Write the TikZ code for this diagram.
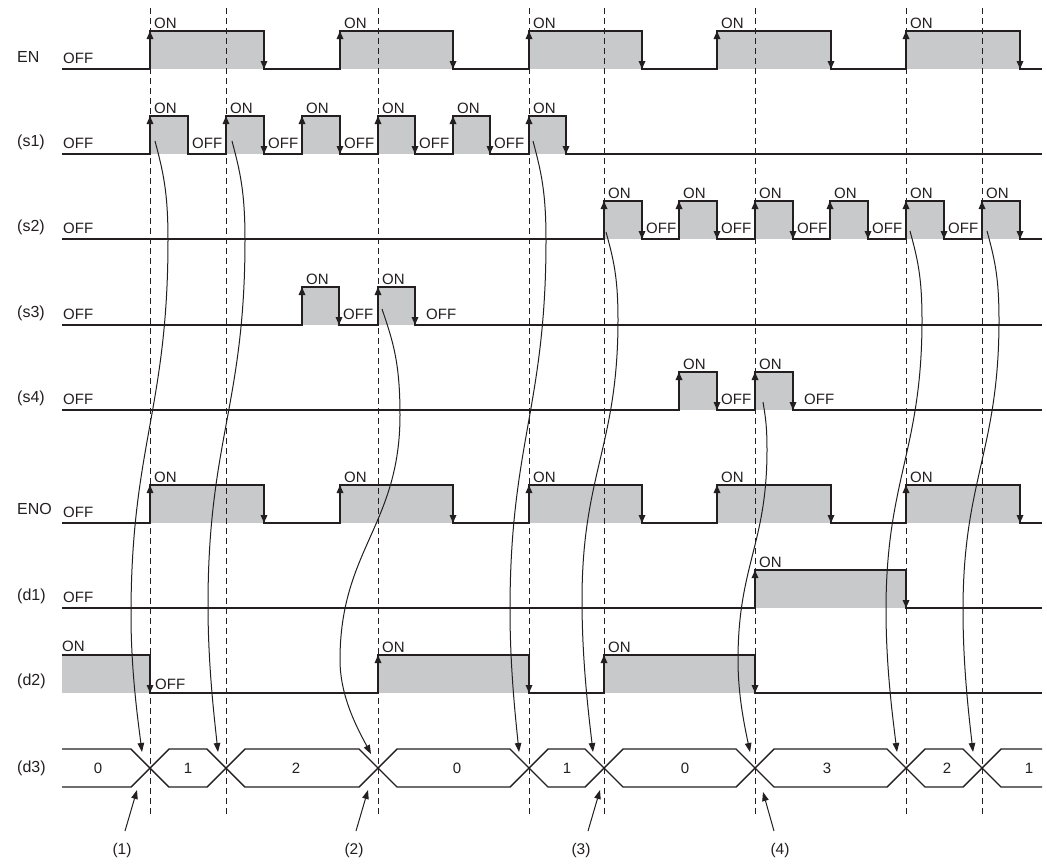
\documentclass[tikz,border=0pt]{standalone}
\usepackage{fontspec}
\setmainfont{Liberation Sans}
\usetikzlibrary{arrows.meta}
\definecolor{ink}{RGB}{35,31,32}
\definecolor{sgray}{RGB}{200,201,203}
\tikzset{
  sig/.style={draw=ink, line width=1.6pt, line join=miter},
  edge/.style={draw=ink, line width=1.6pt, -{Triangle[length=8pt,width=6.5pt]}},
  guide/.style={draw=ink, line width=1pt, dash pattern=on 6pt off 4pt},
  flow/.style={draw=ink, line width=1pt, -{Triangle[length=9pt,width=6.5pt]}},
  bus/.style={draw=ink, line width=1.4pt, line join=miter},
  st/.style={font=\fontsize{15}{15}\selectfont, text=ink, inner sep=0pt, anchor=base west},
  rowlbl/.style={font=\fontsize{16}{16}\selectfont, text=ink, inner sep=0pt, anchor=west},
  val/.style={font=\fontsize{15}{15}\selectfont, text=ink, inner sep=0pt},
  numlbl/.style={font=\fontsize{15.5}{15.5}\selectfont, text=ink, inner sep=0pt},
}
\newcommand\sigrow[2]{%
  \foreach \r/\f in {#2} {\fill[sgray] (\r,#1) rectangle (\f,#1-38);}
  \draw[sig] (62,#1) foreach \r/\f in {#2} { -- (\r,#1) -- (\r,#1-38) -- (\f,#1-38) -- (\f,#1) } -- (1042,#1);
}
\newcommand\ups[2]{\foreach \r in {#2} {\draw[edge] (\r,#1-14) -- (\r,#1-38);}}
\newcommand\downs[2]{\foreach \f in {#2} {\draw[edge] (\f,#1-24) -- (\f,#1);}}
\newcommand\ons[3]{\foreach \r [count=\i] in {#3} {\node[st] (#1on\i) at (\r+4,#2-41) {ON};}}
\newcommand\offs[3]{\foreach \f [count=\i] in {#3} {\node[st] (#1off\i) at (\f+4,#2-6) {OFF};}}
\newcommand\flowarc[9]{%
  \coordinate (#1s) at (#2,#3);
  \coordinate (#1e) at (#8,#9);
  \draw[flow] (#1s) .. controls ({#2+0.6*(#4-#2)},{#3+0.3*(#5-#3)}) and (#4,{#5-0.5*(#5-#3)}) .. (#4,#5)
    .. controls (#4,{#5+0.45*(#7-#5)}) and (#6,{#7-0.45*(#7-#5)}) .. (#6,#7)
    .. controls (#6,{#7+0.4*(#9-#7)}) and ({#8-0.4*(#8-#6)},{#9-0.25*(#9-#7)}) .. (#1e);
}
\begin{document}
\begin{tikzpicture}[x=1pt,y=-1pt]
\fill[white] (0,0) rectangle (1047,863);
\useasboundingbox (0,0) rectangle (1047,863);

% ---------- EN ----------
\node[rowlbl] (lEN) at (17,57) {EN};
\sigrow{69}{150/264,340/453,529/642,717/831,906/1020}
\ups{69}{150,340,529,717,906}
\downs{69}{264,453,642,831,1020}
\ons{EN}{69}{150,340,529,717,906}
\node[st] (ENoff0) at (63,63) {OFF};

% ---------- s1 ----------
\node[rowlbl] (ls1) at (17,142) {(s1)};
\sigrow{154}{150/188,226/264,302/340,378/415,453/490,529/566}
\ups{154}{150,226,302,378,453,529}
\downs{154}{264,340,415,490,566}
\ons{sa}{154}{150,226,302,378,453,529}
\offs{sa}{154}{188,264,340,415,490}
\node[st] (saoff0) at (63,148) {OFF};

% ---------- s2 ----------
\node[rowlbl] (ls2) at (17,227) {(s2)};
\sigrow{239}{604/642,679/717,755/793,830/868,906/944,982/1020}
\ups{239}{604,679,755,830,906,982}
\downs{239}{642,717,793,868,944,1020}
\ons{sb}{239}{604,679,755,830,906,982}
\offs{sb}{239}{642,717,793,868,944}
\node[st] (sboff0) at (63,233) {OFF};

% ---------- s3 ----------
\node[rowlbl] (ls3) at (17,313) {(s3)};
\sigrow{325}{302/339,378/415}
\ups{325}{302,378}
\downs{325}{339,415}
\ons{sc}{325}{302,378}
\node[st] (scoff1) at (343,319) {OFF};
\node[st] (scoff2) at (426,319) {OFF};
\node[st] (scoff0) at (63,319) {OFF};

% ---------- s4 ----------
\node[rowlbl] (ls4) at (17,398) {(s4)};
\sigrow{410}{679/717,755/793}
\ups{410}{679,755}
\downs{410}{717,793}
\ons{sd}{410}{679,755}
\node[st] (sdoff1) at (721,404) {OFF};
\node[st] (sdoff2) at (804,404) {OFF};
\node[st] (sdoff0) at (63,404) {OFF};

% ---------- ENO ----------
\node[rowlbl] (lENO) at (17,509) {ENO};
\sigrow{523}{150/264,340/453,529/642,717/831,906/1020}
\ups{523}{150,340,529,717,906}
\downs{523}{264,453,642,831,1020}
\ons{ENO}{523}{150,340,529,717,906}
\node[st] (ENOoff0) at (63,517) {OFF};

% ---------- d1 ----------
\node[rowlbl] (ld1) at (17,596) {(d1)};
\sigrow{608}{755/906}
\ups{608}{755}
\downs{608}{906}
\ons{da}{608}{755}
\node[st] (daoff0) at (63,602) {OFF};

% ---------- d2 ----------
\node[rowlbl] (ld2) at (17,681) {(d2)};
\fill[sgray] (62,655) rectangle (150,693);
\fill[sgray] (378,655) rectangle (529,693);
\fill[sgray] (604,655) rectangle (755,693);
\draw[sig] (62,655) -- (150,655) -- (150,693) -- (378,693) -- (378,655) -- (529,655) -- (529,693)
  -- (604,693) -- (604,655) -- (755,655) -- (755,693) -- (1042,693);
\ups{693}{378,604}
\downs{693}{150,529,755}
\node[st] (dbon0) at (62,651) {ON};
\ons{db}{693}{378,604}
\node[st] (dboff1) at (155,689) {OFF};

% ---------- d3 ----------
\node[rowlbl] (ld3) at (17,768) {(d3)};
\draw[bus] (62,749) -- (131,749) -- (169,787) -- (207,787) -- (245,749) -- (359,749) -- (397,787)
  -- (510,787) -- (548,749) -- (585,749) -- (623,787) -- (736,787) -- (774,749) -- (887,749)
  -- (925,787) -- (963,787) -- (1001,749) -- (1042,749);
\draw[bus] (62,787) -- (131,787) -- (169,749) -- (207,749) -- (245,787) -- (359,787) -- (397,749)
  -- (510,749) -- (548,787) -- (585,787) -- (623,749) -- (736,749) -- (774,787) -- (887,787)
  -- (925,749) -- (963,749) -- (1001,787) -- (1042,787);
\foreach \x/\v [count=\i] in {98/0,188/1,296/2,457/0,567/1,685/0,827/3,947/2,1029/1}
  {\node[val] (dc\i) at (\x,768) {\v};}

% ---------- guides ----------
\foreach \x [count=\i] in {150,226,378,529,604,755,906,982}
  {\draw[guide] (\x,8) -- (\x,816);}

% ---------- flow arrows ----------
\flowarc{fa}{155}{141}{168}{240}{131}{615}{142}{752}
\flowarc{fb}{232}{141}{245}{240}{208}{605}{218}{752}
\flowarc{fc}{382}{309}{400}{415}{340}{660}{371}{754}
\flowarc{fd}{533}{141}{546}{240}{510}{610}{519}{752}
\flowarc{fe}{606}{232}{618}{320}{582}{600}{593}{752}
\flowarc{ff}{763}{402}{767}{450}{738}{660}{750}{752}
\flowarc{fg}{910}{231}{922}{320}{886}{610}{897}{752}
\flowarc{fh}{987}{231}{999}{320}{963}{610}{973}{752}

% ---------- numbered markers ----------
\node[numlbl] (n1) at (122,850) {(1)};
\node[numlbl] (n2) at (354,850) {(2)};
\node[numlbl] (n3) at (581,850) {(3)};
\node[numlbl] (n4) at (780,850) {(4)};
\coordinate (n1a) at (125,831); \coordinate (n1b) at (137,790);
\coordinate (n2a) at (356,831); \coordinate (n2b) at (368,790);
\coordinate (n3a) at (588,831); \coordinate (n3b) at (600,790);
\coordinate (n4a) at (774,831); \coordinate (n4b) at (763,792);
\draw[flow] (n1a) -- (n1b);
\draw[flow] (n2a) -- (n2b);
\draw[flow] (n3a) -- (n3b);
\draw[flow] (n4a) -- (n4b);
\end{tikzpicture}
\end{document}
